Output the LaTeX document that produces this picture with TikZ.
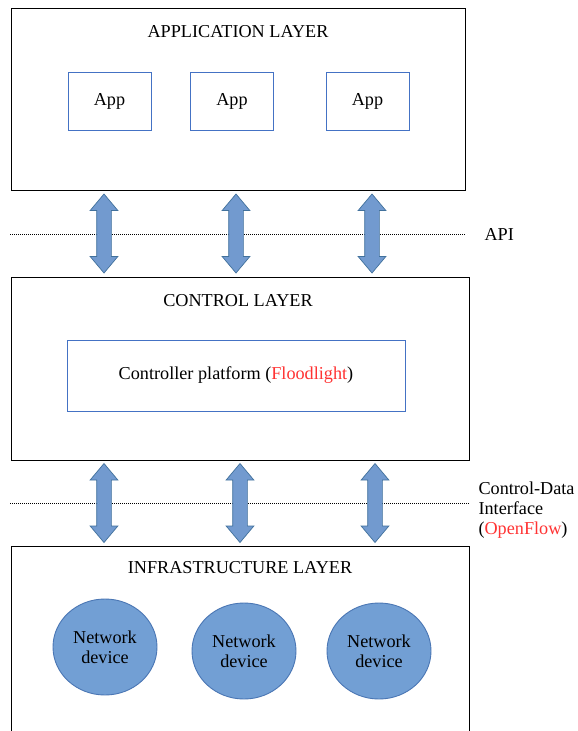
\documentclass[tikz,border=0pt]{standalone}
\usepackage{fontspec}
\setmainfont{Liberation Serif}
\usetikzlibrary{shapes.arrows,shapes.geometric}
\definecolor{boxblue}{HTML}{4472C4}
\definecolor{devfill}{HTML}{729FD4}
\definecolor{devline}{HTML}{4A76B4}
\definecolor{arrowfill}{HTML}{729ACF}
\definecolor{arrowline}{HTML}{41719C}
\definecolor{flred}{HTML}{FF3333}

\tikzset{
    layer/.style={draw=black, line width=0.9pt, inner sep=0pt},
    appbox/.style={draw=boxblue, line width=0.8pt, minimum width=83, minimum height=58, inner sep=0pt},
    device/.style={ellipse, draw=devline, fill=devfill, line width=0.9pt, minimum width=104, minimum height=96, inner sep=0pt, align=center},
    dblarrow/.style={double arrow, draw=arrowline, fill=arrowfill, line width=0.7pt, rotate=90,
        minimum height=79, inner xsep=0pt, inner ysep=7pt, text height=0pt, text depth=0pt,
        double arrow head extend=6.5pt, double arrow tip angle=80},
    sep/.style={dash pattern=on 1pt off 1pt, line width=0.8pt},
}

\begin{document}
\begin{tikzpicture}[x=1pt, y=-1pt, font=\fontsize{18.2}{20}\selectfont]
        \useasboundingbox[fill=white] (0,0) rectangle (578,731);

        % the three layers
        \node[layer, minimum width=454, minimum height=182] (app) at (238,99) {};
        \node[layer, minimum width=458, minimum height=183] (ctrl) at (240,368.5) {};
        \node[layer, minimum width=458, minimum height=220] (infra) at (240,656) {};

        \node (apptitle) at (238,32) {APPLICATION LAYER};
        \node (ctrltitle) at (238,301) {CONTROL LAYER};
        \node (infratitle) at (240,568) {INFRASTRUCTURE LAYER};

        % application layer
        \node[appbox] (appA) at (109.5,101) {App};
        \node[appbox] (appB) at (232,101) {App};
        \node[appbox] (appC) at (367.5,101) {App};

        % control layer
        \node[draw=boxblue, line width=0.8pt, minimum width=338, minimum height=71, inner sep=0pt] (floodlight) at (236,375.5)
            {Controller platform (\textcolor{flred}{Floodlight})};

        % infrastructure layer
        \node[device] (devA) at (105,647) {Network\\device};
        \node[device] (devB) at (244,651) {Network\\device};
        \node[device] (devC) at (379,651) {Network\\device};

        % northbound interface
        \coordinate (apiL) at (10,234);
        \coordinate (apiR) at (466,234);
        \draw[sep] (apiL) -- (apiR);
        \node[anchor=west] (api) at (481,234) {API};

        \node[dblarrow] (nA) at (104,233.5) {};
        \node[dblarrow] (nB) at (236,233.5) {};
        \node[dblarrow] (nC) at (372,233.5) {};

        % southbound interface
        \coordinate (sbL) at (10,503);
        \coordinate (sbR) at (470,503);
        \draw[sep] (sbL) -- (sbR);
        \node[anchor=west, align=left] (openflow) at (475,510)
            {Control-Data\\Interface\\(\textcolor{flred}{OpenFlow})};

        \node[dblarrow] (sA) at (104,503) {};
        \node[dblarrow] (sB) at (240,503) {};
        \node[dblarrow] (sC) at (375,503) {};
\end{tikzpicture}
\end{document}
